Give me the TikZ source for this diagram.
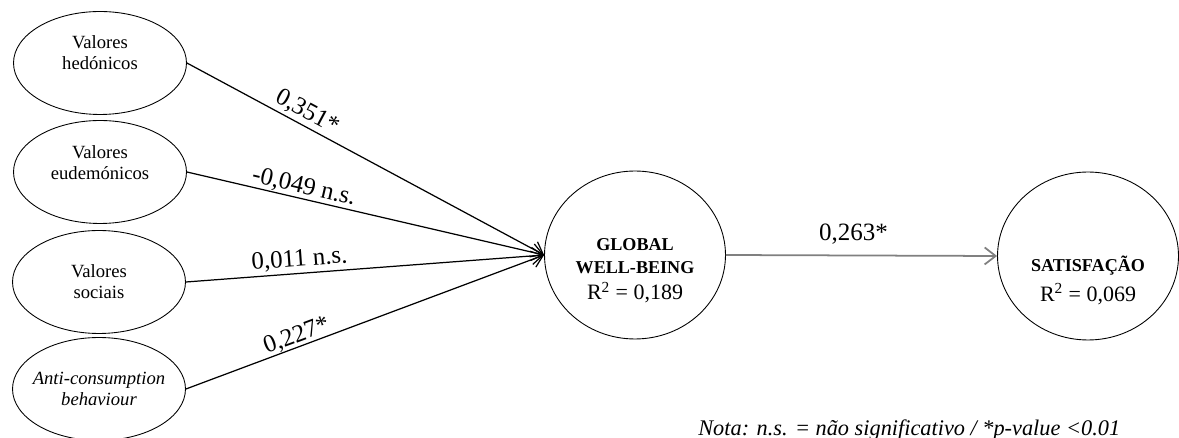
\documentclass[tikz,border=0pt]{standalone}
\usepackage{fontspec}
\setmainfont{Liberation Serif}
\usetikzlibrary{shapes.geometric,arrows.meta}

\begin{document}
\begin{tikzpicture}[x=0.02cm, y=-0.02cm,
    construct/.style={draw, ellipse, line width=0.5pt, minimum width=3.46cm, minimum height=2.06cm},
    latent/.style={draw, ellipse, line width=0.5pt, minimum width=3.62cm, minimum height=3.36cm},
    ctext/.style={align=center, inner sep=0pt, font=\fontsize{10.6}{12}\selectfont},
    ltext/.style={align=center, inner sep=0pt, font=\fontsize{10.3}{13}\selectfont},
    coef/.style={font=\fontsize{14.2}{16}\selectfont, sloped, above, inner sep=1.5pt, pos=0.32},
    relation/.style={-{Straight Barb[length=2.2mm,width=3.4mm]}, line width=0.7pt}]
    \useasboundingbox (0,0) rectangle (1179,438);

    % Exogenous constructs
    \node[construct] (hed) at (100,63) {};
    \node[construct] (eud) at (100,172) {};
    \node[construct] (soc) at (99,282) {};
    \node[construct] (anti) at (99,389) {};
    \node[ctext] (hedtxt) at (100,53) {Valores\\hedónicos};
    \node[ctext] (eudtxt) at (100,163) {Valores\\eudemónicos};
    \node[ctext] (soctxt) at (99,282) {Valores\\sociais};
    \node[ctext] (antitxt) at (99,389) {\itshape Anti-consumption\\\itshape behaviour};

    % Endogenous constructs
    \node[latent] (gwb) at (635,255) {};
    \node[latent] (sat) at (1088,256) {};
    \node[ltext] (gwbtxt) at (635,271) {\textbf{GLOBAL}\\\textbf{WELL-BEING}\\[2pt]{\fontsize{12.5}{14}\selectfont R\textsuperscript{2} = 0,189}};
    \node[ltext] (sattxt) at (1088,280) {\textbf{SATISFAÇÃO}\\[4pt]{\fontsize{12.5}{14}\selectfont R\textsuperscript{2} = 0,069}};

    % Structural paths
    \draw[relation] (hed.east) -- node[coef] {0,351*} (gwb.west);
    \draw[relation] (eud.east) -- node[coef, inner sep=0.5pt] {-0,049 n.s.} (gwb.west);
    \draw[relation] (soc.east) -- node[coef] {0,011 n.s.} (gwb.west);
    \draw[relation] (anti.east) -- node[coef, inner sep=0pt] {0,227*} (gwb.west);
    \draw[relation, gray, line width=1pt] (gwb.east) -- node[coef, pos=0.47, inner sep=6pt] {\color{black}0,263*} (sat.west);

    % Note
    \node[anchor=base west, inner sep=0pt, font=\itshape\fontsize{12.7}{14}\selectfont] (nota) at (698,436) {Nota: n.s. = não significativo / *p-value <0.01};
\end{tikzpicture}
\end{document}
